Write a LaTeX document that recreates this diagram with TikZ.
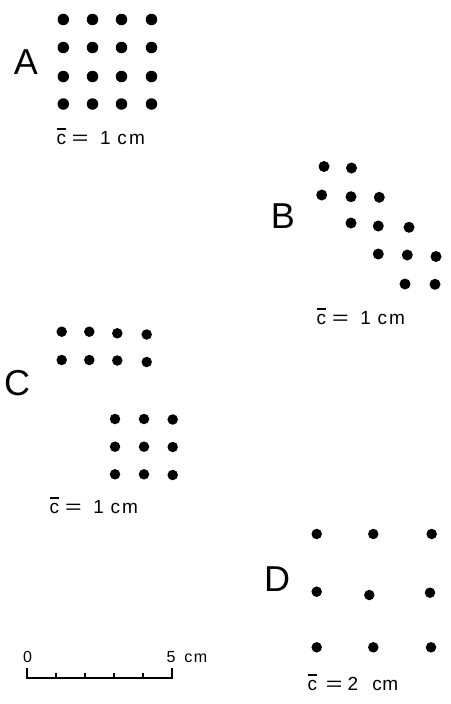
\documentclass[tikz,border=0pt]{standalone}
\usepackage{fontspec}
\setmainfont{Liberation Sans}
\usetikzlibrary{calc}
\newcommand\cbarglyph{\ooalign{c\cr\hidewidth\rule[0.76em]{0.45em}{0.08em}\hidewidth\cr}}
\newcommand\wideeq{\scalebox{1.5}[1]{=}}
% caption with equal sign and spacing of the "1 cm" labels
\newcommand\capone{\cbarglyph\hspace{5.9pt}\wideeq\hspace{11.6pt}1\hspace{6.8pt}c\hspace{2pt}m}
\tikzset{
  spot/.style={circle, fill=black, draw=none, inner sep=0pt, minimum size=#1},
  spot/.default=11pt,
  biglabel/.style={inner sep=0pt, font=\fontsize{36}{36}\selectfont},
  caption/.style={inner sep=0pt, anchor=base west, font=\fontsize{19}{19}\selectfont},
  scaletext/.style={inner sep=0pt, anchor=base, font=\fontsize{16}{16}\selectfont},
  bar/.style={line width=1.6pt, line cap=butt}
}
\begin{document}
\begin{tikzpicture}[x=1pt,y=-1pt]
\useasboundingbox (0,0) rectangle (450,704);
% ---------- A ----------
\node[biglabel] (labA) at (26,62) {A};
\foreach \x [count=\i] in {63.3,92.5,121.5,151.5}{
  \foreach \y [count=\j] in {19.5,47.5,76.5,104}{
    \node[spot=11.5pt] (a\i\j) at (\x,\y) {};
  }
}
\node[caption] (capA) at (56.3,144) {\capone};
% ---------- B ----------
\node[biglabel] (labB) at (283,216) {B};
\foreach \x/\y [count=\k] in {324/166.5, 351.5/168, 321.7/195, 351/196.7, 379.3/197.3,
  351/223, 378.3/226, 409/227.3, 378.3/254, 407.3/255, 436/256.5, 405/284, 435/284.3}{
  \node[spot=11pt] (b\k) at (\x,\y) {};
}
\node[caption] (capB) at (316.5,324) {\capone};
% ---------- C ----------
\node[biglabel] (labC) at (17,383) {C};
\foreach \x/\y [count=\k] in {61.7/331.7, 89.3/331.7, 117.3/333.3, 146.7/334.5,
  61.7/360, 89.3/360, 117.3/360.5, 146.7/362,
  115/419, 144/419, 172.7/419.5,
  115/446.7, 144/446.7, 172.7/447,
  115/474.3, 144/474.3, 172.7/475}{
  \node[spot=10.5pt] (c\k) at (\x,\y) {};
}
\node[caption] (capC) at (49.5,513) {\capone};
% ---------- D ----------
\node[biglabel] (labD) at (277,579) {D};
\foreach \x/\y [count=\k] in {316.7/534, 373.3/534, 431.7/534,
  316.7/591.7, 369.3/595, 430/592.7,
  316.7/647.3, 373.3/647.3, 431/647.3}{
  \node[spot=10.5pt] (d\k) at (\x,\y) {};
}
\node[caption] (capD) at (307.3,690) {\cbarglyph\hspace{8.8pt}\wideeq\hspace{5.2pt}2\hspace{14.3pt}c\hspace{0.3pt}m};
% ---------- scale bar ----------
\coordinate (s0) at (27,678);
\coordinate (s5) at (172,678);
\node[scaletext] (zero) at (27.5,662) {0};
\node[scaletext, anchor=base west] (five) at (166.3,662) {5\hspace{9pt}c\hspace{1.6pt}m};
\draw[bar] ([yshift=10pt]s0) -- (s0) -- (s5) -- ([yshift=10pt]s5);
\foreach \t in {1,2,3,4}{
  \draw[bar] ($(s0)!\t/5!(s5)$) -- ++(0,-5);
}
\end{tikzpicture}
\end{document}
